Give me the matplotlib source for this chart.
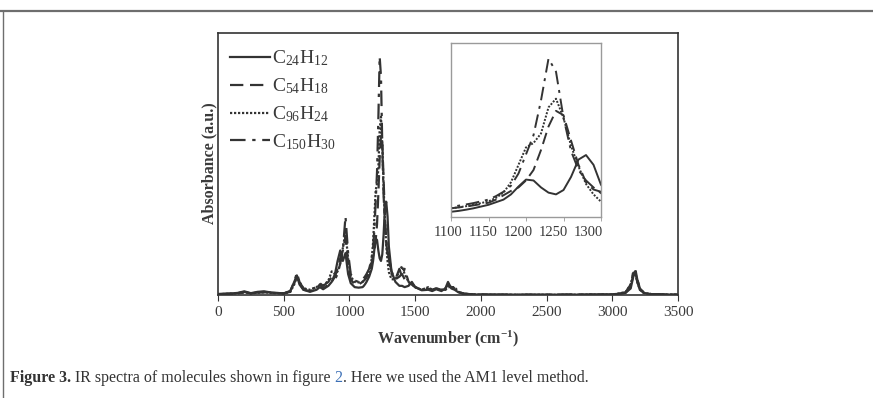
import matplotlib
matplotlib.use("Agg")
from matplotlib import pyplot as plt
from matplotlib.lines import Line2D
from matplotlib.transforms import ScaledTranslation

plt.rcParams['font.family'] = ['Liberation Serif', 'DejaVu Serif']
plt.rcParams['mathtext.fontset'] = 'custom'
plt.rcParams['mathtext.rm'] = 'Liberation Serif'
plt.rcParams['mathtext.it'] = 'Liberation Serif:italic'
plt.rcParams['mathtext.bf'] = 'Liberation Serif:bold'

# wavenumber grid (cm-1) and absorbance (a.u., main axis 0..1)
wavenumber = [0, 100, 150, 200, 250, 300, 350, 400, 500, 550, 580, 600, 620, 650, 700,
              750, 775, 800, 840, 865, 890, 910, 930, 950, 970, 990, 1010, 1040, 1070,
              1100, 1110, 1120, 1130, 1140, 1150, 1160, 1170, 1180, 1190, 1200,
              1210, 1220, 1230, 1240, 1250, 1260, 1270, 1280, 1290, 1300,
              1320, 1350, 1380, 1400, 1420, 1450, 1475, 1500, 1550, 1600, 1630, 1660,
              1700, 1730, 1750, 1775, 1800, 1830, 1870, 1950, 2200, 2600, 3000, 3100,
              3140, 3160, 3175, 3190, 3210, 3240, 3300, 3500]

c24h12 = [0.004, 0.006, 0.008, 0.014, 0.007, 0.012, 0.014, 0.010, 0.006, 0.015, 0.050, 0.075, 0.040, 0.020, 0.012,
          0.020, 0.030, 0.022, 0.035, 0.050, 0.080, 0.130, 0.170, 0.130, 0.160, 0.080, 0.045, 0.030, 0.028,
          0.030, 0.035, 0.042, 0.050, 0.060, 0.070, 0.085, 0.100, 0.130, 0.175, 0.215,
          0.210, 0.170, 0.140, 0.130, 0.155, 0.230, 0.330, 0.356, 0.300, 0.185,
          0.090, 0.050, 0.035, 0.035, 0.030, 0.035, 0.050, 0.030, 0.018, 0.020, 0.015, 0.022,
          0.015, 0.025, 0.050, 0.025, 0.020, 0.010, 0.004, 0.002, 0.001, 0.001, 0.002, 0.008,
          0.025, 0.070, 0.090, 0.050, 0.020, 0.008, 0.003, 0.001]

c54h18 = [0.003, 0.005, 0.007, 0.012, 0.006, 0.010, 0.012, 0.009, 0.006, 0.012, 0.045, 0.070, 0.045, 0.020, 0.015,
          0.025, 0.040, 0.025, 0.040, 0.050, 0.070, 0.100, 0.140, 0.170, 0.220, 0.120, 0.060, 0.040, 0.040,
          0.050, 0.055, 0.060, 0.067, 0.074, 0.082, 0.100, 0.125, 0.150, 0.170, 0.210,
          0.270, 0.385, 0.520, 0.610, 0.585, 0.440, 0.300, 0.200, 0.158, 0.145,
          0.090, 0.060, 0.070, 0.080, 0.060, 0.040, 0.045, 0.030, 0.020, 0.025, 0.018, 0.025,
          0.018, 0.025, 0.040, 0.030, 0.025, 0.012, 0.005, 0.002, 0.001, 0.001, 0.002, 0.008,
          0.030, 0.080, 0.090, 0.060, 0.025, 0.010, 0.003, 0.001]

c96h24 = [0.003, 0.005, 0.006, 0.010, 0.006, 0.009, 0.010, 0.008, 0.006, 0.012, 0.040, 0.070, 0.050, 0.025, 0.020,
          0.030, 0.040, 0.035, 0.055, 0.090, 0.080, 0.090, 0.120, 0.180, 0.240, 0.140, 0.070, 0.050, 0.048,
          0.050, 0.056, 0.062, 0.070, 0.080, 0.090, 0.110, 0.140, 0.200, 0.300, 0.400,
          0.425, 0.480, 0.630, 0.680, 0.570, 0.410, 0.290, 0.190, 0.130, 0.088,
          0.060, 0.060, 0.090, 0.110, 0.080, 0.050, 0.040, 0.030, 0.020, 0.030, 0.020, 0.025,
          0.020, 0.020, 0.030, 0.030, 0.030, 0.012, 0.005, 0.002, 0.001, 0.001, 0.002, 0.010,
          0.040, 0.085, 0.080, 0.050, 0.020, 0.008, 0.003, 0.001]

c150h30 = [0.003, 0.004, 0.006, 0.010, 0.006, 0.009, 0.010, 0.008, 0.006, 0.015, 0.050, 0.085, 0.050, 0.025, 0.020,
           0.030, 0.045, 0.035, 0.050, 0.070, 0.060, 0.080, 0.120, 0.170, 0.300, 0.160, 0.080, 0.055, 0.050,
           0.057, 0.065, 0.072, 0.080, 0.090, 0.100, 0.120, 0.145, 0.180, 0.250, 0.360,
           0.470, 0.670, 0.910, 0.835, 0.570, 0.380, 0.270, 0.210, 0.170, 0.137,
           0.080, 0.060, 0.100, 0.070, 0.100, 0.050, 0.040, 0.030, 0.020, 0.028, 0.020, 0.025,
           0.020, 0.020, 0.030, 0.030, 0.025, 0.012, 0.005, 0.002, 0.001, 0.001, 0.002, 0.010,
           0.040, 0.090, 0.100, 0.060, 0.025, 0.008, 0.003, 0.001]

labels = [r"C$_{24}$H$_{12}$", r"C$_{54}$H$_{18}$", r"C$_{96}$H$_{24}$", r"C$_{150}$H$_{30}$"]
series = [c24h12, c54h18, c96h24, c150h30]
styles = ['-', (0, (6, 3)), (0, (1, 0.8)), (0, (7, 3, 1.5, 3))]

main_ticks = [0, 500, 1000, 1500, 2000, 2500, 3000, 3500]
inset_ticks = [1100, 1150, 1200, 1250, 1300]

ink = '#333333'
txt_col = '#3a3a3a'
W, H = 873, 398
fig = plt.figure(figsize=(W / 100, H / 100), dpi=100)

# page decorations
fig.add_artist(Line2D([0, 1], [1 - 10.5 / H] * 2, color='#6e6e6e', lw=1.6))
fig.add_artist(Line2D([3.5 / W] * 2, [0, 1 - 10.5 / H], color='#6e6e6e', lw=1.0))

ax = fig.add_axes([218 / W, (H - 295) / H, 460 / W, 262 / H])
for y, ls, lab in zip(series, styles, labels):
    ax.plot(wavenumber, y, color=ink, lw=1.6, linestyle=ls, label=lab)
ax.set_xlim(0, 3500)
ax.set_ylim(0, 1.0)
ax.set_xticks(main_ticks)
ax.set_yticks([])
ax.tick_params(axis='x', direction='out', length=4, width=0.8, color=ink,
               labelsize=11, labelcolor=txt_col, pad=4)
for sp in ax.spines.values():
    sp.set_color(ink)
    sp.set_linewidth(1.2)
ax.set_xlabel(r"Wavenumber (cm$^{\mathbf{-1}}$)", fontsize=11.5, fontweight='bold',
              color=txt_col, labelpad=7)
fig.text(209 / W, 1 - 163 / H, "Absorbance (a.u.)", rotation=90, ha='center', va='center',
         fontsize=11.5, fontweight='bold', color=txt_col)

leg = ax.legend(loc='upper left', bbox_to_anchor=(0.0, 0.985), frameon=False, fontsize=14,
                handlelength=2.05, handletextpad=0.15, labelspacing=0.42,
                borderaxespad=0.2, borderpad=0.4)
for t in leg.get_texts():
    t.set_color(txt_col)

# inset
axi = fig.add_axes([451 / W, (H - 217) / H, 150 / W, 174 / H])
for y, ls in zip(series, styles):
    axi.plot(wavenumber, y, color=ink, lw=1.4, linestyle=ls)
axi.set_xlim(1100, 1300)
axi.set_ylim(0, 1.0)
axi.set_xticks(inset_ticks)
axi.set_xticklabels([])
axi.set_yticks([])
axi.tick_params(axis='x', direction='out', length=3, width=0.6, color='#999999')
for sp in axi.spines.values():
    sp.set_color('#9a9a9a')
    sp.set_linewidth(1.0)
# inset tick labels sit slightly left of their ticks in the original
for i, tk in enumerate(inset_ticks):
    off = ScaledTranslation(-(2.5 + 2.5 * i) / 100, -9 / 100, fig.dpi_scale_trans)
    axi.text(tk, 0, str(tk), transform=axi.get_xaxis_transform() + off,
             ha='center', va='top', fontsize=10.5, color=txt_col)

# caption, drawn piece by piece
parts = [("Figure 3.", 'bold', ink),
         (" IR spectra of molecules shown in figure ", 'normal', ink),
         ("2", 'normal', '#3b6fb6'),
         (". Here we used the AM1 level method.", 'normal', ink)]
renderer = fig.canvas.get_renderer()
x = 10 / W
for txt, wt, col in parts:
    t = fig.text(x, 1 - 378 / H, txt, fontsize=11.5, fontweight=wt, color=col,
                 ha='left', va='center')
    bb = t.get_window_extent(renderer=renderer)
    x = bb.x1 / W

fig.savefig("out.png", dpi=100)
